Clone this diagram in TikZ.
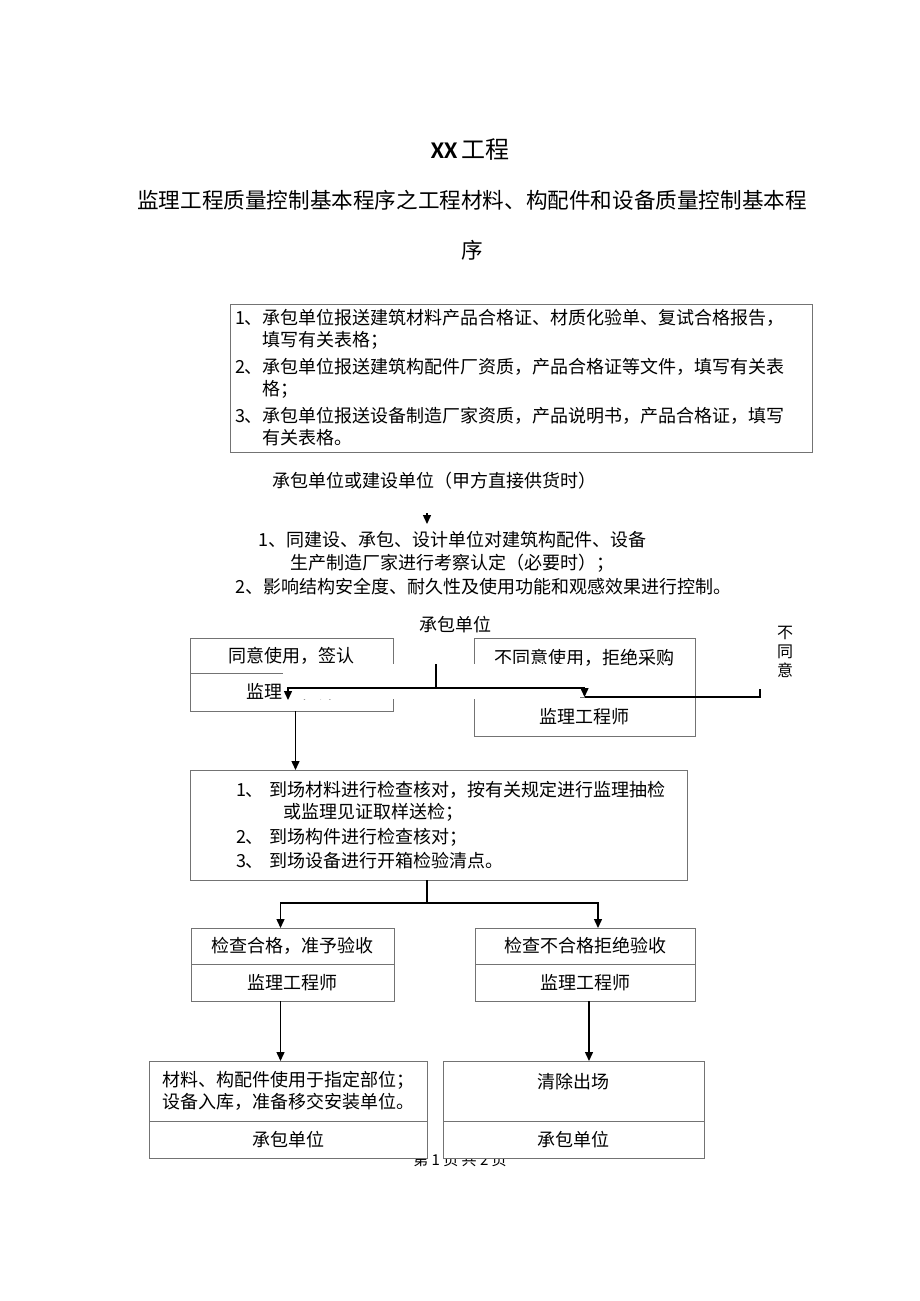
\documentclass[tikz,border=0pt]{standalone}
\usepackage{fontspec}
\setmainfont{Noto Sans CJK SC}
\newfontfamily\latinfont{Carlito}
\usetikzlibrary{arrows.meta,positioning}
\tikzset{
  frame/.style={
    draw=black!55,
    line width=0.9pt,
    fill=white,
    inner sep=0pt,
    outer sep=0pt,
    font=\fontsize{18pt}{22pt}\selectfont
  },
  plain/.style={
    inner sep=0pt,
    font=\fontsize{18pt}{22pt}\selectfont
  },
  flow/.style={
    line width=1.4pt
  },
  flowtip/.style={
    flow,
    -{Triangle[length=9pt,width=8pt]}
  }
}

\begin{document}
\begin{tikzpicture}[x=1pt,y=-1pt]
  \useasboundingbox (0,0) rectangle (920,1301);

  % heading
  \node[plain,font=\fontsize{24pt}{28pt}\selectfont] (title) at (470,150) {{\latinfont\bfseries XX}\hspace{4pt}工程};
  \node[plain,align=center,font=\fontsize{21.6pt}{50pt}\selectfont] (subtitle) at (472,225)
    {监理工程质量控制基本程序之工程材料、构配件和设备质量控制基本程\\序};
  \node[plain,font=\fontsize{15pt}{18pt}\selectfont] (footer) at (460,1160) {第 1 页 共 2 页};

  % documents submitted
  \node[frame,anchor=north west,minimum height=148,inner xsep=5pt,text width=572,align=left] (docs) at (230,304)
    {1、承包单位报送建筑材料产品合格证、材质化验单、复试合格报告，\\
     \hphantom{1、}填写有关表格；\\[5pt]
     2、承包单位报送建筑构配件厂资质，产品合格证等文件，填写有关表\\
     \hphantom{1、}格；\\[5pt]
     3、承包单位报送设备制造厂家资质，产品说明书，产品合格证，填写\\
     \hphantom{1、}有关表格。};
  \node[plain,anchor=west] (supply) at (272,481) {承包单位或建设单位（甲方直接供货时）};
  \coordinate (tipfrom) at (427,513);
  \coordinate (tipto) at (427,524);
  \draw[flowtip] (tipfrom) -- (tipto);
  \node[plain,anchor=west,align=left,font=\fontsize{18pt}{23.5pt}\selectfont] (survey) at (235,563)
    {\hspace*{23pt}1、同建设、承包、设计单位对建筑构配件、设备\\
     \hspace*{55pt}生产制造厂家进行考察认定（必要时）；\\
     2、影响结构安全度、耐久性及使用功能和观感效果进行控制。};
  \node[plain] (contr) at (455,625) {承包单位};
  \node[plain,align=center,font=\fontsize{16pt}{19pt}\selectfont] (nolabel) at (785,652) {不\\同\\意};

  % first decision
  \node[frame,anchor=north west,minimum width=203,minimum height=35] (agree) at (190,638) {同意使用，签认};
  \node[frame,below=0pt of agree,minimum width=203,minimum height=38] (agreeby) {监理工程师};
  \node[frame,anchor=north west,minimum width=221,text height=26pt,text depth=33pt] (refuse) at (474,638) {不同意使用，拒绝采购};
  \node[frame,below=0pt of refuse,minimum width=221,minimum height=39] (refuseby) {监理工程师};
  \fill[white] (283,664) rectangle (580,698.5);

  \coordinate (fork) at (436,664);
  \coordinate (forkmid) at (436,688);
  \coordinate (agreetip) at (288,700);
  \coordinate (nogo) at (760,689);
  \draw[flow] (fork) -- (forkmid);
  \draw[flowtip] (forkmid) -| (agreetip);
  \draw[flowtip] (forkmid) -| (refuseby.north);
  \draw[flow] (nogo) |- (refuseby.north);

  % checks on arrival
  \node[frame,anchor=north west,minimum height=110,inner xsep=5pt,text width=487,align=left] (check) at (190,770)
    {\hspace*{41pt}1、 到场材料进行检查核对，按有关规定进行监理抽检\\
     \hspace*{88pt}或监理见证取样送检；\\[3pt]
     \hspace*{41pt}2、 到场构件进行检查核对；\\[2pt]
     \hspace*{41pt}3、 到场设备进行开箱检验清点。};
  \draw[flowtip] ([xshift=4pt]agreeby.south) -- ([xshift=4pt]agreeby.south |- check.north);

  \coordinate (split) at (427,903);
  \draw[flow] (check.south -| split) -- (split);

  % acceptance
  \node[frame,anchor=north west,minimum width=203,minimum height=36] (accept) at (191,928) {检查合格，准予验收};
  \node[frame,below=0pt of accept,minimum width=203,minimum height=37] (acceptby) {监理工程师};
  \node[frame,anchor=north west,minimum width=220,minimum height=36] (reject) at (475,928) {检查不合格拒绝验收};
  \node[frame,below=0pt of reject,minimum width=220,minimum height=37] (rejectby) {监理工程师};
  \draw[flowtip] (split) -| ([xshift=-12pt]accept.north);
  \draw[flowtip] (split) -| ([xshift=13pt]reject.north);

  % outcome
  \node[frame,anchor=north west,minimum width=278,minimum height=60,align=left] (install) at (149,1061)
    {材料、构配件使用于指定部位；\\设备入库，准备移交安装单位。};
  \node[frame,below=0pt of install,minimum width=278,minimum height=37] (installby) {承包单位};
  \node[frame,anchor=north west,minimum width=261,text height=27pt,text depth=33pt] (remove) at (443,1061) {清除出场};
  \node[frame,below=0pt of remove,minimum width=261,minimum height=37] (removeby) {承包单位};
  \draw[flowtip] ([xshift=-12pt]acceptby.south) -- ([xshift=-12pt]acceptby.south |- install.north);
  \draw[flowtip] ([xshift=4pt]rejectby.south) -- ([xshift=4pt]rejectby.south |- remove.north);
\end{tikzpicture}
\end{document}
